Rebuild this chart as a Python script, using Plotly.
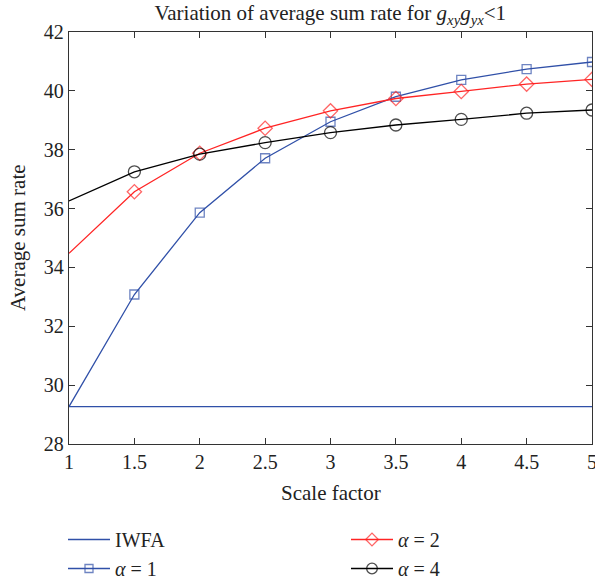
import plotly.graph_objects as go

scale = [1, 1.5, 2, 2.5, 3, 3.5, 4, 4.5, 5]
iwfa = [29.27, 29.27, 29.27, 29.27, 29.27, 29.27, 29.27, 29.27, 29.27]
alpha1 = [29.27, 33.08, 35.86, 37.71, 38.95, 39.80, 40.37, 40.74, 40.98]
alpha2 = [34.48, 36.57, 37.88, 38.73, 39.32, 39.74, 39.98, 40.23, 40.39]
alpha4 = [36.26, 37.25, 37.85, 38.24, 38.58, 38.84, 39.03, 39.24, 39.35]
x_ticks = [1, 1.5, 2, 2.5, 3, 3.5, 4, 4.5, 5]
x_labels = ["1", "1.5", "2", "2.5", "3", "3.5", "4", "4.5", "5"]
y_ticks = [28, 30, 32, 34, 36, 38, 40, 42]

BLUE = "#3050A8"
RED = "#FF2424"
BLACK = "#000000"
FONT = "Liberation Serif"
TXT = "#222222"
FS = 21

msize_sq = [0] + [9] * (len(scale) - 1)
msize_di = [0] + [11] * (len(scale) - 1)
msize_ci = [0] + [12] * (len(scale) - 1)

fig = go.Figure()
fig.add_trace(go.Scatter(x=scale, y=iwfa, mode="lines", name="IWFA",
                         line=dict(color=BLUE, width=1.3), legend="legend"))
fig.add_trace(go.Scatter(x=scale, y=alpha1, mode="lines+markers", name="<i>α</i> = 1",
                         line=dict(color=BLUE, width=1.3),
                         marker=dict(symbol="square-open", size=msize_sq, color=BLUE, line=dict(width=1.3)),
                         legend="legend"))
fig.add_trace(go.Scatter(x=scale, y=alpha2, mode="lines+markers", name="<i>α</i> = 2",
                         line=dict(color=RED, width=1.3),
                         marker=dict(symbol="diamond-open", size=msize_di, color=RED, line=dict(width=1.3)),
                         legend="legend2"))
fig.add_trace(go.Scatter(x=scale, y=alpha4, mode="lines+markers", name="<i>α</i> = 4",
                         line=dict(color=BLACK, width=1.3),
                         marker=dict(symbol="circle-open", size=msize_ci, color=BLACK, line=dict(width=1.3)),
                         legend="legend2"))

axis_common = dict(showline=True, linecolor="#333333", linewidth=1.3, mirror="ticks",
                   ticks="inside", ticklen=6, tickcolor="#333333", showgrid=False, zeroline=False,
                   tickfont=dict(family=FONT, size=20, color=TXT))

fig.update_xaxes(range=[1, 5], tickvals=x_ticks, ticktext=x_labels,
                 ticklabeloverflow="allow", **axis_common)
fig.update_yaxes(range=[28, 42], tickvals=y_ticks, **axis_common)

leg_common = dict(font=dict(family=FONT, size=20, color=TXT), bgcolor="rgba(0,0,0,0)",
                  orientation="v", xref="container", yref="container", yanchor="top", xanchor="left",
                  traceorder="normal", tracegroupgap=0, itemwidth=42)

PL, PW = 69, 523

fig.update_layout(
    width=595, height=581,
    margin=dict(l=PL, r=3, t=32, b=137, autoexpand=False),
    paper_bgcolor="white", plot_bgcolor="white",
    title=dict(text="Variation of average sum rate for <i>g</i><sub><i>xy</i></sub><i>g</i><sub><i>yx</i></sub>&lt;1",
               font=dict(family=FONT, size=FS, color=TXT), x=0.555, xanchor="center",
               y=1 - 13 / 581, yanchor="middle"),
    legend=dict(x=63 / 595, y=1 - 520 / 581, **leg_common),
    legend2=dict(x=346 / 595, y=1 - 520 / 581, **leg_common),
    annotations=[
        dict(text="Scale factor", xref="paper", yref="paper", x=0.5, y=-0.12,
             xanchor="center", yanchor="middle", showarrow=False,
             font=dict(family=FONT, size=FS, color=TXT)),
        dict(text="Average sum rate", xref="paper", yref="paper", x=(18 - PL) / PW, y=0.5,
             xanchor="center", yanchor="middle", textangle=-90, showarrow=False,
             font=dict(family=FONT, size=FS, color=TXT)),
    ],
)

fig.write_html("out.html", config={"displayModeBar": False})
with open("out.html", "r", encoding="utf-8") as f:
    html = f.read()
html = html.replace("<body>", '<body style="margin:0;padding:0">', 1)
with open("out.html", "w", encoding="utf-8") as f:
    f.write(html)
